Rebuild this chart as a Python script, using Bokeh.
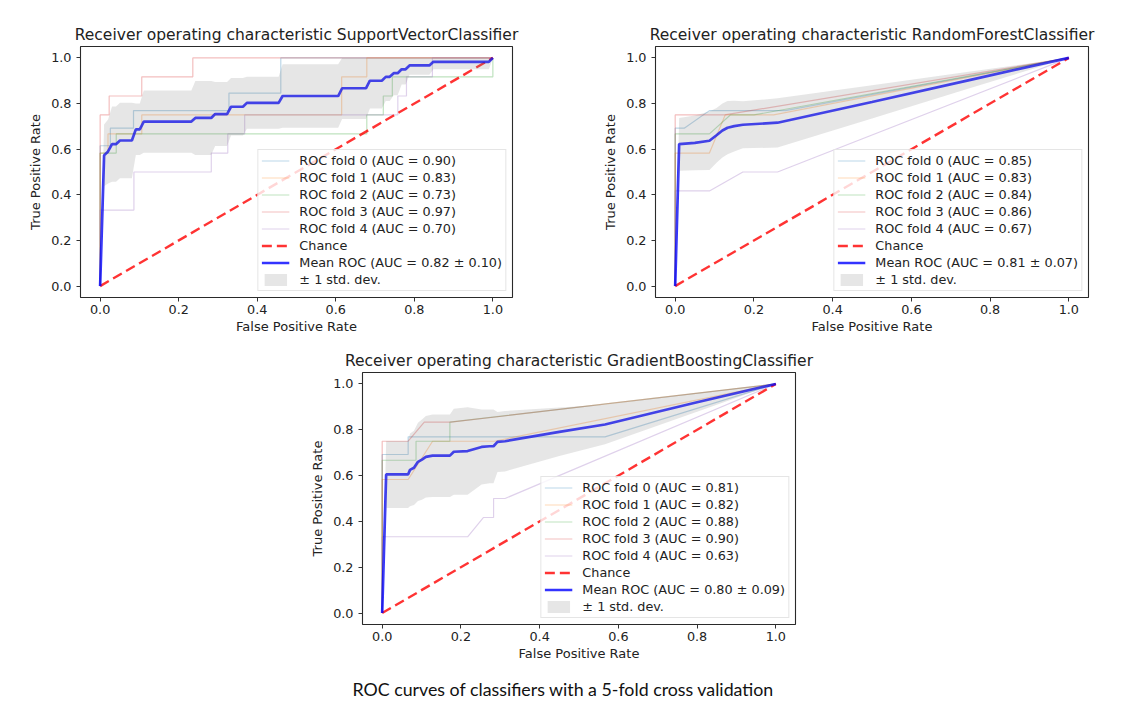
from bokeh.plotting import figure
from bokeh.models import Range1d, FixedTicker, NumeralTickFormatter, Legend, LegendItem, Title
from bokeh.layouts import column, row
from bokeh.embed import file_html
from bokeh.resources import INLINE

# ---------------- data ----------------
TICKS = [0.0, 0.2, 0.4, 0.6, 0.8, 1.0]
FOLD_COLORS = ["#1f77b4", "#ff7f0e", "#2ca02c", "#d62728", "#9467bd"]
CHANCE_X = [0.0, 1.0]
CHANCE_Y = [0.0, 1.0]

# Support Vector Classifier
svc_fold_fpr = [
    [0, 0, 0.026, 0.026, 0.085, 0.085, 0.328, 0.328, 0.46, 0.46, 1.0],
    [0, 0, 0.02, 0.02, 0.106, 0.106, 0.615, 0.615, 0.679, 0.679, 1.0],
    [0, 0, 0.041, 0.041, 0.679, 0.679, 0.721, 0.721, 0.744, 0.744, 1.0, 1.0],
    [0, 0, 0.023, 0.023, 0.106, 0.106, 0.236, 0.236, 1.0],
    [0, 0, 0.086, 0.086, 0.283, 0.283, 0.325, 0.325, 0.368, 0.368, 0.758, 0.758, 0.78, 0.78, 0.846, 0.846, 1.0],
]
svc_fold_tpr = [
    [0, 0.615, 0.615, 0.692, 0.692, 0.769, 0.769, 0.846, 0.846, 1.0, 1.0],
    [0, 0.583, 0.583, 0.667, 0.667, 0.75, 0.75, 0.917, 0.917, 1.0, 1.0],
    [0, 0.583, 0.583, 0.667, 0.667, 0.75, 0.75, 0.833, 0.833, 0.917, 0.917, 1.0],
    [0, 0.75, 0.75, 0.833, 0.833, 0.917, 0.917, 1.0, 1.0],
    [0, 0.333, 0.333, 0.5, 0.5, 0.583, 0.583, 0.667, 0.667, 0.75, 0.75, 0.833, 0.833, 0.917, 0.917, 1.0, 1.0],
]
svc_fold_auc = ["0.90", "0.83", "0.73", "0.97", "0.70"]
svc_mean_fpr = [0, 0.0101, 0.0202, 0.0303, 0.0404, 0.0505, 0.0808, 0.0909, 0.101, 0.1111,
                0.2323, 0.2424, 0.2828, 0.2929, 0.3232, 0.3333, 0.3636, 0.3737, 0.4545, 0.4646,
                0.6061, 0.6162, 0.6768, 0.6869, 0.7172, 0.7273, 0.7374, 0.7475, 0.7576, 0.7677,
                0.7778, 0.7879, 0.8384, 0.8485, 0.9899, 1.0]
svc_mean_tpr = [0, 0.573, 0.590, 0.622, 0.622, 0.638, 0.638, 0.687, 0.687, 0.721,
                0.721, 0.737, 0.737, 0.754, 0.754, 0.786, 0.786, 0.803, 0.803, 0.833,
                0.833, 0.867, 0.867, 0.900, 0.900, 0.917, 0.917, 0.933, 0.933, 0.950,
                0.950, 0.967, 0.967, 0.983, 0.983, 1.0]
svc_upper = [0, 0.708, 0.730, 0.787, 0.787, 0.803, 0.803, 0.800, 0.800, 0.857,
             0.857, 0.899, 0.899, 0.894, 0.894, 0.912, 0.912, 0.917, 0.917, 0.972,
             0.972, 1.0, 1.0, 1.0, 1.0, 1.0, 1.0, 1.0, 1.0, 1.0,
             1.0, 1.0, 1.0, 1.0, 1.0, 1.0]
svc_lower = [0, 0.438, 0.450, 0.457, 0.457, 0.473, 0.473, 0.574, 0.574, 0.584,
             0.584, 0.575, 0.575, 0.614, 0.614, 0.660, 0.660, 0.689, 0.689, 0.694,
             0.694, 0.732, 0.732, 0.778, 0.778, 0.811, 0.811, 0.836, 0.836, 0.883,
             0.883, 0.926, 0.926, 0.950, 0.950, 1.0]
svc_mean_label = "Mean ROC (AUC = 0.82 \u00b1 0.10)"

# Random Forest Classifier
rf_fold_fpr = [
    [0, 0, 0.023, 0.087, 0.28, 1.0],
    [0, 0, 0.087, 0.127, 0.25, 1.0],
    [0, 0, 0.087, 0.14, 0.2, 1.0],
    [0, 0, 0.126, 1.0],
    [0, 0, 0.087, 0.172, 0.26, 1.0],
]
rf_fold_tpr = [
    [0, 0.692, 0.692, 0.769, 0.769, 1.0],
    [0, 0.583, 0.583, 0.75, 0.75, 1.0],
    [0, 0.667, 0.667, 0.75, 0.75, 1.0],
    [0, 0.75, 0.75, 1.0],
    [0, 0.417, 0.417, 0.5, 0.5, 1.0],
]
rf_fold_auc = ["0.85", "0.83", "0.84", "0.86", "0.67"]
rf_mean_fpr = [0, 0.0101, 0.05, 0.087, 0.105, 0.12, 0.133, 0.15, 0.172, 0.26, 0.5, 0.75, 1.0]
rf_mean_tpr = [0, 0.622, 0.628, 0.637, 0.661, 0.682, 0.694, 0.701, 0.707, 0.716, 0.807, 0.904, 1.0]
rf_upper = [0, 0.737, 0.748, 0.765, 0.781, 0.800, 0.811, 0.812, 0.810, 0.823, 0.880, 0.940, 1.0]
rf_lower = [0, 0.506, 0.508, 0.509, 0.541, 0.564, 0.578, 0.590, 0.604, 0.607, 0.734, 0.868, 1.0]
rf_mean_label = "Mean ROC (AUC = 0.81 \u00b1 0.07)"

# Gradient Boosting Classifier
gb_fold_fpr = [
    [0, 0, 0.066, 0.066, 0.566, 1.0],
    [0, 0, 0.066, 0.128, 0.285, 1.0],
    [0, 0, 0.086, 0.086, 0.172, 0.172, 1.0],
    [0, 0, 0.066, 0.107, 0.174, 1.0],
    [0, 0, 0.217, 0.257, 0.283, 0.283, 0.312, 1.0],
]
gb_fold_tpr = [
    [0, 0.692, 0.692, 0.769, 0.769, 1.0],
    [0, 0.583, 0.583, 0.75, 0.75, 1.0],
    [0, 0.667, 0.667, 0.75, 0.75, 0.833, 1.0],
    [0, 0.75, 0.75, 0.833, 0.833, 1.0],
    [0, 0.333, 0.333, 0.417, 0.417, 0.5, 0.5, 1.0],
]
gb_fold_auc = ["0.81", "0.82", "0.88", "0.90", "0.63"]
gb_mean_fpr = [0, 0.0101, 0.0657, 0.0707, 0.0808, 0.0909, 0.101, 0.111, 0.128, 0.172, 0.182,
               0.217, 0.2525, 0.2727, 0.2828, 0.2929, 0.312, 0.45, 0.566, 0.8, 1.0]
gb_mean_tpr = [0, 0.605, 0.605, 0.625, 0.634, 0.660, 0.670, 0.682, 0.687, 0.687, 0.704,
               0.707, 0.725, 0.728, 0.728, 0.747, 0.750, 0.791, 0.823, 0.920, 1.0]
gb_upper = [0, 0.751, 0.751, 0.784, 0.796, 0.831, 0.845, 0.860, 0.867, 0.867, 0.892,
            0.898, 0.889, 0.889, 0.889, 0.878, 0.882, 0.897, 0.909, 0.960, 1.0]
gb_lower = [0, 0.459, 0.459, 0.466, 0.472, 0.489, 0.495, 0.504, 0.507, 0.507, 0.516,
            0.516, 0.561, 0.567, 0.567, 0.616, 0.618, 0.685, 0.737, 0.879, 1.0]
gb_mean_label = "Mean ROC (AUC = 0.80 \u00b1 0.09)"

CAPTION = "ROC curves of classifiers with a 5-fold cross validation"

FONT = "DejaVu Sans"
TXT = "#222222"


def make_plot(name, fold_fpr, fold_tpr, fold_auc, mean_fpr, mean_tpr, upper, lower, mean_label,
              fw, fh, bl, br, bt, bb):
    p = figure(title="Receiver operating characteristic " + name,
               frame_width=fw, frame_height=fh,
               min_border_left=bl, min_border_right=br, min_border_top=bt, min_border_bottom=bb,
               x_range=Range1d(-0.05, 1.05), y_range=Range1d(-0.05, 1.05),
               output_backend="svg", toolbar_location=None)
    p.title.text_font = FONT
    p.title.text_font_size = "15.5px"
    p.title.text_font_style = "normal"
    p.title.text_color = TXT
    p.title.align = "center"
    p.title.standoff = 6

    p.grid.visible = False
    p.outline_line_color = "#2a2a2a"
    p.outline_line_width = 1.1
    for ax in (p.xaxis, p.yaxis):
        ax.ticker = FixedTicker(ticks=TICKS)
        ax.formatter = NumeralTickFormatter(format="0.0")
        ax.axis_line_color = None
        ax.major_tick_in = 0
        ax.major_tick_out = 4
        ax.major_tick_line_color = "#333333"
        ax.minor_tick_in = 0
        ax.minor_tick_out = 0
        ax.major_label_text_font = FONT
        ax.major_label_text_font_size = "12.8px"
        ax.major_label_text_color = TXT
        ax.axis_label_text_font = FONT
        ax.axis_label_text_font_size = "13px"
        ax.axis_label_text_font_style = "normal"
        ax.axis_label_text_color = TXT
    p.xaxis.axis_label = "False Positive Rate"
    p.yaxis.axis_label = "True Positive Rate"
    p.xaxis.major_label_standoff = 3
    p.xaxis.axis_label_standoff = 2
    p.yaxis.major_label_standoff = 5
    p.yaxis.axis_label_standoff = 5

    items = []
    for i in range(5):
        r = p.line(fold_fpr[i], fold_tpr[i], line_color=FOLD_COLORS[i], line_width=1.2, line_alpha=0.3)
        items.append(LegendItem(label="ROC fold %d (AUC = %s)" % (i, fold_auc[i]), renderers=[r]))
    rc = p.line(CHANCE_X, CHANCE_Y, line_color="#ff0000", line_alpha=0.8, line_width=2.4, line_dash="10 5")
    items.append(LegendItem(label="Chance", renderers=[rc]))
    rm = p.line(mean_fpr, mean_tpr, line_color="#0000ff", line_alpha=0.8, line_width=2.7)
    items.append(LegendItem(label=mean_label, renderers=[rm]))
    rb = p.varea(x=mean_fpr, y1=lower, y2=upper, fill_color="#808080", fill_alpha=0.2)
    items.append(LegendItem(label="\u00b1 1 std. dev.", renderers=[rb]))

    leg = Legend(items=items, location="bottom_right")
    leg.margin = 6
    leg.padding = 3
    leg.spacing = 2
    leg.label_height = 15
    leg.glyph_height = 15
    leg.glyph_width = 28
    leg.label_standoff = 10
    leg.label_text_font = FONT
    leg.label_text_font_size = "12.8px"
    leg.label_text_color = TXT
    leg.border_line_color = "#cccccc"
    leg.border_line_width = 1
    leg.background_fill_alpha = 0.8
    p.add_layout(leg)
    return p


p1 = make_plot("SupportVectorClassifier", svc_fold_fpr, svc_fold_tpr, svc_fold_auc,
               svc_mean_fpr, svc_mean_tpr, svc_upper, svc_lower, svc_mean_label,
               432, 251, 80, 48, 46, 43)
p2 = make_plot("RandomForestClassifier", rf_fold_fpr, rf_fold_tpr, rf_fold_auc,
               rf_mean_fpr, rf_mean_tpr, rf_upper, rf_lower, rf_mean_label,
               433, 251, 95, 33, 46, 43)
p3 = make_plot("GradientBoostingClassifier", gb_fold_fpr, gb_fold_tpr, gb_fold_auc,
               gb_mean_fpr, gb_mean_tpr, gb_upper, gb_lower, gb_mean_label,
               433, 252, 362, 326, 32, 80)

cap = Title(text=CAPTION, align="left", text_font="Lato", text_font_size="17.8px",
            text_font_style="normal", text_color="#111111", standoff=24, offset=-10)
p3.add_layout(cap, "below")

layout = column(row(p1, p2), p3)
open("out.html", "w").write(file_html(layout, INLINE))
